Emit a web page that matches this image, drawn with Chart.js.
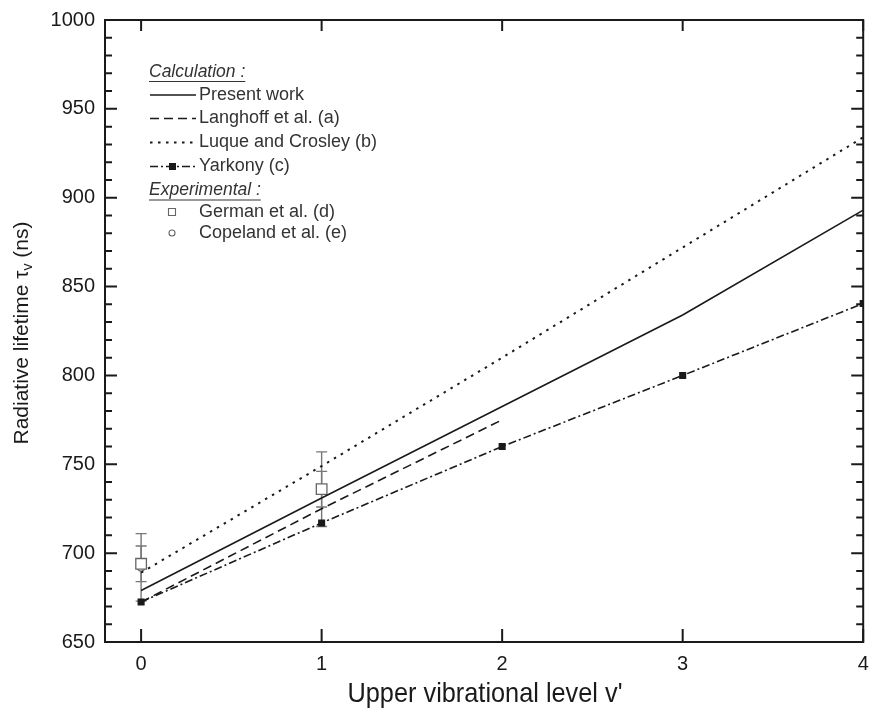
<!DOCTYPE html>
<html lang="en">
<head>
<meta charset="UTF-8" />
<title>Radiative lifetime vs upper vibrational level</title>
<script src="https://cdn.jsdelivr.net/npm/chart.js"></script>
<style>
  html, body { margin: 0; padding: 0; background: #fff; }
  #wrap { width: 872px; height: 717px; }
</style>
</head>
<body>
<div id="wrap"><canvas id="chart"></canvas></div>
<script>
// calculated lifetimes (ns) per upper vibrational level
const levels = [0, 1, 2, 3, 4];
const presentWork = [679, 731, 782.5, 834, 893];
const langhoffLevels = [0, 1, 2];
const langhoff = [672.5, 725, 775];
const luqueCrosley = [689, 749, 810, 872, 934];
const yarkony = [672.5, 717, 760, 800, 840.5];

// measured lifetimes with their uncertainties
const expLevels = [0, 1];
const german = [694, 736];
const germanErr = [10, 10];
const copeland = [692, 736];
const copelandErr = [19, 21];

const xTicks = [0, 1, 2, 3, 4];
const yTicks = [650, 700, 750, 800, 850, 900, 950, 1000];

const pts = (xs, ys) => xs.map((x, i) => ({ x: x, y: ys[i] }));
const INK = '#1a1a1a';
const GREY = '#666';
const FONT = '"Liberation Sans", Arial, sans-serif';

const lineSet = (label, data, dash, extra) => Object.assign({
  label, data, showLine: true, borderColor: INK, backgroundColor: INK,
  borderWidth: 1.6, borderDash: dash, pointRadius: 0, tension: 0, group: 'calc'
}, extra || {});

const datasets = [
  lineSet('Present work', pts(levels, presentWork), []),
  lineSet('Langhoff et al. (a)', pts(langhoffLevels, langhoff), [9, 5]),
  lineSet('Luque and Crosley (b)', pts(levels, luqueCrosley), [2.5, 5.5], { borderWidth: 2 }),
  lineSet('Yarkony (c)', pts(levels, yarkony), [8, 3, 2, 3],
    { pointStyle: 'rect', pointRadius: 5, pointBorderWidth: 0 }),
  { label: 'German et al. (d)', data: pts(expLevels, german), err: germanErr, group: 'exp',
    showLine: false, pointStyle: 'rect', pointRadius: 7.5, pointBorderWidth: 1.3,
    borderColor: GREY, backgroundColor: '#fff' },
  { label: 'Copeland et al. (e)', data: pts(expLevels, copeland), err: copelandErr, group: 'exp',
    showLine: false, pointStyle: 'circle', pointRadius: 3.8, pointBorderWidth: 1.3,
    borderColor: GREY, backgroundColor: '#fff' }
];

// vertical error bars under the experimental points
const errorBars = {
  id: 'errorBars',
  beforeDatasetsDraw(chart) {
    const { ctx, scales: { x, y } } = chart;
    ctx.save();
    ctx.strokeStyle = '#777';
    ctx.lineWidth = 1.4;
    chart.data.datasets.forEach(ds => {
      if (!ds.err) return;
      ds.data.forEach((p, i) => {
        const px = x.getPixelForValue(p.x);
        const top = y.getPixelForValue(p.y + ds.err[i]);
        const bot = y.getPixelForValue(p.y - ds.err[i]);
        ctx.beginPath();
        ctx.moveTo(px, top); ctx.lineTo(px, bot);
        ctx.moveTo(px - 5.5, top); ctx.lineTo(px + 5.5, top);
        ctx.moveTo(px - 5.5, bot); ctx.lineTo(px + 5.5, bot);
        ctx.stroke();
      });
    });
    ctx.restore();
  }
};

// frame, inward ticks and axis titles
const frame = {
  id: 'frame',
  afterDraw(chart) {
    const { ctx, chartArea: a, scales: { x, y } } = chart;
    ctx.save();
    ctx.strokeStyle = INK;
    ctx.lineWidth = 2;
    ctx.strokeRect(a.left, a.top, a.right - a.left, a.bottom - a.top);
    ctx.beginPath();
    xTicks.forEach(v => {
      const px = x.getPixelForValue(v);
      ctx.moveTo(px, a.bottom); ctx.lineTo(px, a.bottom - 13);
      ctx.moveTo(px, a.top); ctx.lineTo(px, a.top + 11);
    });
    for (let v = y.min; v <= y.max; v += 10) {
      const py = y.getPixelForValue(v);
      const len = v % 50 === 0 ? 12 : 7;
      ctx.moveTo(a.left, py); ctx.lineTo(a.left + len, py);
      ctx.moveTo(a.right, py); ctx.lineTo(a.right - len, py);
    }
    ctx.stroke();

    // x title, slightly condensed
    ctx.fillStyle = INK;
    ctx.font = '28px ' + FONT;
    ctx.textBaseline = 'middle';
    ctx.textAlign = 'center';
    const xt = "Upper vibrational level v'";
    const sx = 275 / ctx.measureText(xt).width;
    ctx.save();
    ctx.translate(485, 694);
    ctx.scale(sx, 1);
    ctx.fillText(xt, 0, 0);
    ctx.restore();

    // y title with subscript v
    ctx.save();
    ctx.translate(22, 333);
    ctx.rotate(-Math.PI / 2);
    ctx.textAlign = 'left';
    const big = '21px ' + FONT;
    const small = '14px ' + FONT;
    const p1 = 'Radiative lifetime \u03c4', p2 = 'v', p3 = ' (ns)';
    ctx.font = big; const w1 = ctx.measureText(p1).width, w3 = ctx.measureText(p3).width;
    ctx.font = small; const w2 = ctx.measureText(p2).width;
    let cx = -(w1 + w2 + w3) / 2;
    ctx.font = big; ctx.fillText(p1, cx, 0); cx += w1;
    ctx.font = small; ctx.fillText(p2, cx, 6); cx += w2;
    ctx.font = big; ctx.fillText(p3, cx, 0);
    ctx.restore();
    ctx.restore();
  }
};

// two-part legend: calculations and experiments
const legendBox = {
  id: 'legendBox',
  afterDraw(chart) {
    const ctx = chart.ctx;
    ctx.save();
    ctx.fillStyle = INK;
    ctx.strokeStyle = INK;
    ctx.textBaseline = 'middle';
    ctx.textAlign = 'left';
    const header = (t, x0, y0) => {
      ctx.font = 'italic 17.5px ' + FONT;
      ctx.fillStyle = '#333';
      ctx.fillText(t, x0, y0);
      const w = ctx.measureText(t).width;
      ctx.strokeStyle = '#333';
      ctx.lineWidth = 1;
      ctx.setLineDash([]);
      ctx.beginPath(); ctx.moveTo(x0, y0 + 9.5); ctx.lineTo(x0 + w, y0 + 9.5); ctx.stroke();
    };
    const label = (t, y0) => {
      ctx.font = '18px ' + FONT;
      ctx.fillStyle = '#333';
      ctx.fillText(t, 199, y0);
    };
    header('Calculation :', 149, 72);
    const calcRows = [95, 118.5, 142.5, 166.5];
    chart.data.datasets.filter(d => d.group === 'calc').forEach((ds, i) => {
      const yy = calcRows[i];
      ctx.strokeStyle = INK;
      ctx.lineWidth = ds.borderWidth;
      ctx.setLineDash(ds.borderDash);
      ctx.beginPath(); ctx.moveTo(150, yy); ctx.lineTo(196, yy); ctx.stroke();
      ctx.setLineDash([]);
      if (ds.pointRadius > 0) {
        ctx.fillStyle = INK;
        ctx.fillRect(169, yy - 3.5, 7, 7);
      }
      label(ds.label, yy);
    });
    header('Experimental :', 149, 190.5);
    const expRows = [212, 233];
    chart.data.datasets.filter(d => d.group === 'exp').forEach((ds, i) => {
      const yy = expRows[i];
      ctx.strokeStyle = GREY;
      ctx.lineWidth = 1.1;
      ctx.setLineDash([]);
      ctx.beginPath();
      if (ds.pointStyle === 'rect') ctx.rect(168.5, yy - 3.5, 7, 7);
      else ctx.arc(172, yy, 3, 0, Math.PI * 2);
      ctx.stroke();
      label(ds.label, yy);
    });
    ctx.restore();
  }
};

const tickFont = { size: 20, family: FONT };

new Chart(document.getElementById('chart'), {
  type: 'scatter',
  data: { datasets },
  plugins: [errorBars, frame, legendBox],
  options: {
    responsive: true,
    maintainAspectRatio: false,
    animation: false,
    layout: { padding: { left: 0, top: 20, right: 8, bottom: 0 } },
    plugins: { legend: { display: false }, tooltip: { enabled: false } },
    scales: {
      x: {
        type: 'linear', min: -0.2, max: 4,
        afterBuildTicks: s => { s.ticks = xTicks.map(v => ({ value: v })); },
        afterFit: s => { s.height = 75; s.paddingLeft = 0; s.paddingRight = 0; },
        grid: { display: false, drawTicks: false },
        border: { display: false },
        ticks: { color: INK, padding: 10, font: tickFont, callback: v => String(v) }
      },
      y: {
        type: 'linear', min: 650, max: 1000,
        afterBuildTicks: s => { s.ticks = yTicks.map(v => ({ value: v })); },
        afterFit: s => { s.width = 105; s.paddingTop = 0; s.paddingBottom = 0; },
        grid: { display: false, drawTicks: false },
        border: { display: false },
        ticks: { color: INK, padding: 10, font: tickFont, callback: v => String(v) }
      }
    }
  }
});
</script>
</body>
</html>
